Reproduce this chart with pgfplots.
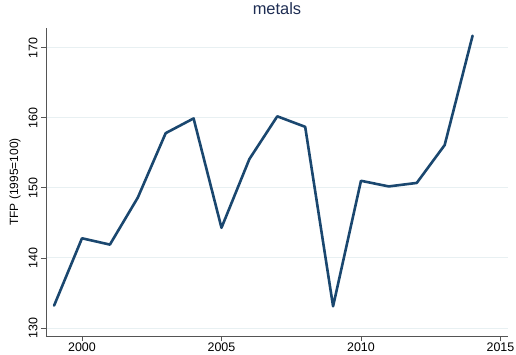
\documentclass[border=0pt]{standalone}
\usepackage{pgfplots}
\pgfplotsset{compat=1.18}
\usepackage{fontspec}
\setmainfont{Liberation Sans}
\definecolor{lineblue}{HTML}{1A476F}
\definecolor{titleblue}{HTML}{1E2D53}
\definecolor{gridc}{HTML}{E8F0F2}
\definecolor{axisc}{HTML}{555555}
\begin{document}
\begin{tikzpicture}
\useasboundingbox (-46bp,-19bp) rectangle (470bp,336bp);
\begin{axis}[
  at={(0,0)}, anchor=south west,
  scale only axis, width=462bp, height=308bp,
  xmin=1998.71, xmax=2015.27, ymin=128.86, ymax=172.8,
  axis x line*=bottom, axis y line*=left,
  axis line style={axisc, line width=0.8pt, -},
  xtick={2000,2005,2010,2015}, ytick={130,140,...,170},
  tick align=outside, major tick length=5bp,
  tick style={axisc, line width=0.8pt},
  ymajorgrids, grid style={gridc, line width=1pt},
  /pgf/number format/assume math mode=true,
  x tick label style={font=\fontsize{12.5}{14}\selectfont, /pgf/number format/1000 sep={}},
  y tick label style={font=\fontsize{12.5}{14}\selectfont, rotate=90, anchor=south, /pgf/number format/1000 sep={}},
  xticklabel style={yshift=2bp},
  title={metals},
  title style={font=\fontsize{16.5}{18}\selectfont, text=titleblue, at={(axis description cs:0.5,1)}, anchor=south, yshift=4bp},
]
\addplot[lineblue, line width=2.6bp, line join=round, line cap=round] coordinates {
(1999,133.2) (2000,142.8) (2001,141.9) (2002,148.6) (2003,157.8)
(2004,159.9) (2005,144.3) (2006,154.1) (2007,160.2) (2008,158.7)
(2009,133.1) (2010,151.0) (2011,150.2) (2012,150.7) (2013,156.1)
(2014,171.7)
};
\end{axis}
\node[rotate=90, font=\fontsize{12}{14}\selectfont, inner sep=0pt] at ([xshift=-31bp]current axis.west) {TFP (1995=100)};
\end{tikzpicture}
\end{document}
